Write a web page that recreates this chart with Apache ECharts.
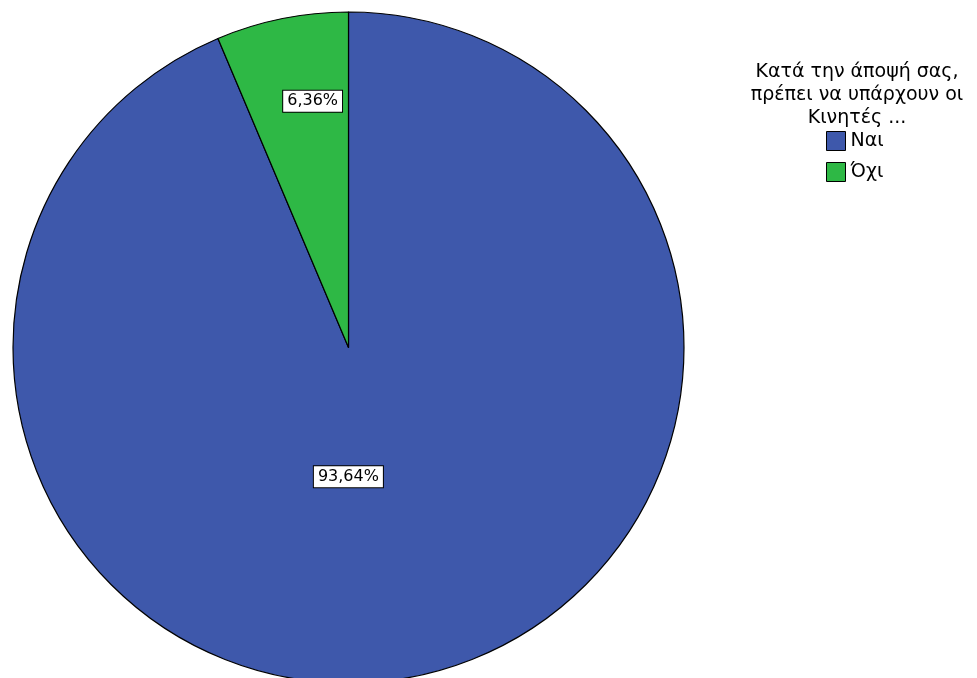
<!DOCTYPE html>
<html>
<head>
<meta charset="utf-8">
<script src="https://cdn.jsdelivr.net/npm/echarts@6/dist/echarts.min.js"></script>
<style>
html,body{margin:0;padding:0;background:#fff;}
#c{width:977px;height:678px;}
</style>
</head>
<body>
<div id="c"></div>
<script>
const categories = ['Ναι', 'Όχι'];
const values = [93.64, 6.36];
const labelTexts = ['93,64%', '6,36%'];
const legendTitle = 'Κατά την άποψή σας,\nπρέπει να υπάρχουν οι\nΚινητές ...';
const colors = ['#3e58ab', '#2eb845'];
const labelShift = [[-34, -38], [-2, -79]];

const chart = echarts.init(document.getElementById('c'));
const font = '"DejaVu Sans", sans-serif';
chart.setOption({
  animation: false,
  backgroundColor: '#fff',
  title: {
    text: legendTitle,
    left: 857,
    top: 61,
    padding: 0,
    textAlign: 'center',
    textStyle: { fontFamily: font, fontSize: 19, fontWeight: 'normal', color: '#000', lineHeight: 23, align: 'center' }
  },
  legend: {
    orient: 'vertical',
    left: 826,
    top: 131,
    padding: 0,
    itemWidth: 19,
    itemHeight: 19,
    itemGap: 11,
    icon: 'rect',
    itemStyle: { borderColor: '#000', borderWidth: 1 },
    textStyle: { fontFamily: font, fontSize: 19, color: '#000', padding: [0, 0, 0, 0] },
    data: categories
  },
  series: [{
    type: 'pie',
    center: [348.5, 347.5],
    radius: [0, 335.5],
    startAngle: 90,
    clockwise: true,
    silent: true,
    itemStyle: { borderColor: '#000', borderWidth: 1.2 },
    label: {
      show: true,
      position: 'inside',
      formatter: p => labelTexts[p.dataIndex],
      fontFamily: font,
      fontSize: 16,
      color: '#000',
      backgroundColor: '#fff',
      borderColor: '#000',
      borderWidth: 1,
      padding: [3, 4, 2, 4]
    },
    labelLine: { show: false },
    labelLayout: p => ({ dx: labelShift[p.dataIndex][0], dy: labelShift[p.dataIndex][1] }),
    data: categories.map((c, i) => ({ name: c, value: values[i], itemStyle: { color: colors[i] } }))
  }]
});
</script>
</body>
</html>
